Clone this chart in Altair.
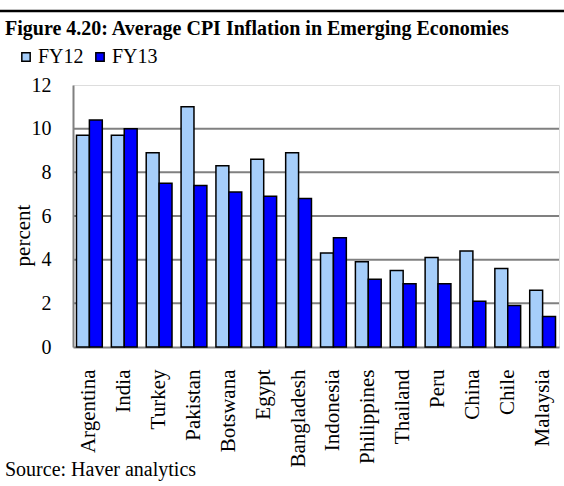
import altair as alt
import pandas as pd

countries = ["Argentina", "India", "Turkey", "Pakistan", "Botswana", "Egypt",
             "Bangladesh", "Indonesia", "Philippines", "Thailand", "Peru",
             "China", "Chile", "Malaysia"]
fy12 = [9.7, 9.7, 8.9, 11.0, 8.3, 8.6, 8.9, 4.3, 3.9, 3.5, 4.1, 4.4, 3.6, 2.6]
fy13 = [10.4, 10.0, 7.5, 7.4, 7.1, 6.9, 6.8, 5.0, 3.1, 2.9, 2.9, 2.1, 1.9, 1.4]
series = ["FY12", "FY13"]
colors = ["#A6CEFA", "#0000FF"]
grid_vals = [2, 4, 6, 8, 10]
y_ticks = [0, 2, 4, 6, 8, 10, 12]

title_text = "Figure 4.20: Average CPI Inflation in Emerging Economies"
source_text = "Source: Haver analytics"

rows = []
for c, a, b in zip(countries, fy12, fy13):
    rows.append({"country": c, "series": "FY12", "value": a})
    rows.append({"country": c, "series": "FY13", "value": b})
df = pd.DataFrame(rows)

W, H = 486, 262
FONT = "Liberation Serif"

bars = alt.Chart(df).mark_bar(stroke="black", strokeWidth=1.5).encode(
    x=alt.X("country:N", sort=countries, title=None,
            scale=alt.Scale(paddingInner=0.26, paddingOuter=0.1),
            axis=alt.Axis(labelAngle=270, labelAlign="right", labelBaseline="middle",
                          labelPadding=22, ticks=False, domainColor="#808080",
                          domainWidth=2, labelFont=FONT, labelFontSize=21,
                          labelColor="black")),
    xOffset=alt.XOffset("series:N", sort=series),
    y=alt.Y("value:Q", title="percent",
            scale=alt.Scale(domain=[0, 12], nice=False),
            axis=alt.Axis(values=y_ticks, grid=False, ticks=False, domainColor="#808080",
                          domainWidth=2, labelFont=FONT, labelFontSize=20,
                          labelColor="black", labelPadding=22,
                          titleFont=FONT, titleFontSize=21, titleFontWeight="normal",
                          titleColor="black", titleX=-40, titleY=150,
                          titleAngle=270, titleAlign="center")),
    color=alt.Color("series:N", sort=series,
                    scale=alt.Scale(domain=series, range=colors),
                    legend=alt.Legend(title=None, orient="none", legendX=-57, legendY=-38,
                                      direction="horizontal", symbolType="square",
                                      symbolSize=70, symbolStrokeColor="black",
                                      symbolStrokeWidth=1.5, symbolOpacity=1,
                                      labelFont=FONT, labelFontSize=20,
                                      labelColor="black", labelOffset=2,
                                      columnPadding=6)),
)

grid = alt.Chart(pd.DataFrame({"g": grid_vals})).mark_rule(
    color="#808080", strokeWidth=2).encode(y="g:Q")

texts = pd.DataFrame({"t": [title_text]})
title = alt.Chart(texts).mark_text(
    font=FONT, fontSize=20, fontWeight="bold", align="left", baseline="alphabetic",
    color="black").encode(text="t:N", x=alt.value(-68), y=alt.value(-50))

source = alt.Chart(pd.DataFrame({"t": [source_text]})).mark_text(
    font=FONT, fontSize=20, align="left", baseline="alphabetic",
    color="black").encode(text="t:N", x=alt.value(-68), y=alt.value(391))

topline = alt.Chart(pd.DataFrame({"t": [0]})).mark_rule(
    color="black", strokeWidth=2.5).encode(
    x=alt.value(-73), x2=alt.value(491), y=alt.value(-74))

chart = alt.layer(grid, bars, title, source, topline).properties(
    width=W, height=H,
    autosize=alt.AutoSizeParams(type="none"),
    padding={"left": 73, "top": 85, "right": 5, "bottom": 139},
).configure_view(stroke="black", strokeWidth=2).configure(background="white")

chart.save("out.html", embed_options={"renderer": "svg", "actions": False})
